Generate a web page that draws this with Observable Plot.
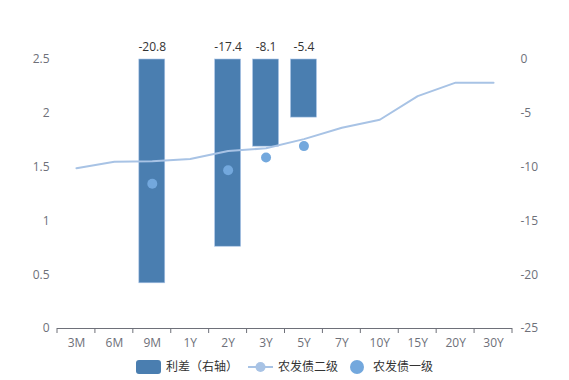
<!DOCTYPE html>
<html>
<head>
<meta charset="utf-8">
<script src="https://cdn.jsdelivr.net/npm/d3@7"></script>
<script src="https://cdn.jsdelivr.net/npm/@observablehq/plot@0.6"></script>
<style>
  body { margin: 0; background: #fff; font-family: "Open Sans", "Noto Sans CJK SC", sans-serif; overflow: hidden; }
  #chart { width: 569px; }
  #chart svg { display: block; }
</style>
</head>
<body>
<div id="chart"></div>
<script>
const categories = ["3M","6M","9M","1Y","2Y","3Y","5Y","7Y","10Y","15Y","20Y","30Y"];
const level2 = [1.49, 1.55, 1.555, 1.575, 1.65, 1.675, 1.76, 1.865, 1.94, 2.16, 2.285, 2.285];
const spreadCats = ["9M","2Y","3Y","5Y"];
const spreadValues = [-20.8, -17.4, -8.1, -5.4];
const level1Cats = ["9M","2Y","3Y","5Y"];
const level1Values = [1.345, 1.47, 1.59, 1.695];
const leftTicks = [0, 0.5, 1, 1.5, 2, 2.5];
const rightTicks = [0, -5, -10, -15, -20, -25];
const legendLabels = ["利差（右轴）", "农发债二级", "农发债一级"];

const lineData = categories.map((c, i) => ({cat: c, v: level2[i]}));
const barData = spreadCats.map((c, i) => ({cat: c, v: spreadValues[i]}));
const dotData = level1Cats.map((c, i) => ({cat: c, v: level1Values[i]}));
// right axis (-25..0) mapped onto left axis (0..2.5)
const toLeft = r => 2.5 + r / 10;

const W = 569, ML = 57, MR = 57;
const font = '"Open Sans", "Noto Sans CJK SC", sans-serif';
const cjkFont = '"Noto Sans CJK SC", "Open Sans", sans-serif';

const plot = Plot.plot({
  width: W,
  height: 350,
  marginLeft: ML,
  marginRight: MR,
  marginTop: 59,
  marginBottom: 22,
  style: {fontFamily: font, fontSize: "12px", color: "#6e7079", background: "#fff"},
  x: {type: "band", domain: categories, padding: 0, round: false, label: null},
  y: {domain: [0, 2.5], label: null},
  marks: [
    Plot.axisY({ticks: leftTicks, tickSize: 0, tickPadding: 8, tickFormat: d => String(d), fill: "#6e7079", fontSize: 12}),
    Plot.axisY({anchor: "right", ticks: rightTicks.map(toLeft), tickSize: 0, tickPadding: 8, tickFormat: d => String(Math.round((d - 2.5) * 10)), fill: "#6e7079", fontSize: 12, textAnchor: "start"}),
    Plot.barY(barData, {x: "cat", y1: () => 2.5, y2: d => toLeft(d.v), fill: "#4a7eb0", stroke: "#a9c4e6", strokeWidth: 0.6, insetLeft: 6, insetRight: 6}),
    Plot.text(barData, {x: "cat", y: () => 2.5, text: d => String(d.v), dy: -12, fill: "#333", fontSize: 12}),
    Plot.line(lineData, {x: "cat", y: "v", stroke: "#a8c3e5", strokeWidth: 2}),
    Plot.dot(dotData, {x: "cat", y: "v", r: 5, fill: "#73a8dd", stroke: "none"}),
    Plot.ruleY([0], {stroke: "#6e7079", strokeWidth: 1}),
    Plot.axisX({tickSize: 0, tickPadding: 10, fill: "#6e7079", fontSize: 12})
  ]
});
document.getElementById("chart").appendChild(plot);

// boundary ticks at band edges, from the x scale
const xs = plot.scale("x");
const ys = plot.scale("y");
const svg = d3.select(plot);
const y0 = ys.apply(0);
const bounds = categories.map(c => xs.apply(c)).concat([xs.apply(categories[categories.length - 1]) + xs.bandwidth]);
svg.append("g").selectAll("line").data(bounds).join("line")
  .attr("x1", d => d).attr("x2", d => d).attr("y1", y0).attr("y2", y0 + 5)
  .attr("stroke", "#6e7079");

// legend
const lg = d3.create("svg").attr("width", W).attr("height", 30)
  .style("font-family", cjkFont).style("font-size", "12px");
const cy = 17;
lg.append("rect").attr("x", 136).attr("y", cy - 7).attr("width", 25).attr("height", 14).attr("rx", 3).attr("fill", "#4a7eb0");
lg.append("text").attr("x", 166).attr("y", cy).attr("dy", "0.35em").attr("fill", "#333").text(legendLabels[0]);
lg.append("line").attr("x1", 248).attr("x2", 273).attr("y1", cy).attr("y2", cy).attr("stroke", "#a8c3e5").attr("stroke-width", 2);
lg.append("circle").attr("cx", 260.5).attr("cy", cy).attr("r", 5).attr("fill", "#a8c3e5");
lg.append("text").attr("x", 278).attr("y", cy).attr("dy", "0.35em").attr("fill", "#333").text(legendLabels[1]);
lg.append("circle").attr("cx", 357).attr("cy", cy).attr("r", 7).attr("fill", "#73a8dd");
lg.append("text").attr("x", 373).attr("y", cy).attr("dy", "0.35em").attr("fill", "#333").text(legendLabels[2]);
document.getElementById("chart").appendChild(lg.node());
</script>
</body>
</html>
